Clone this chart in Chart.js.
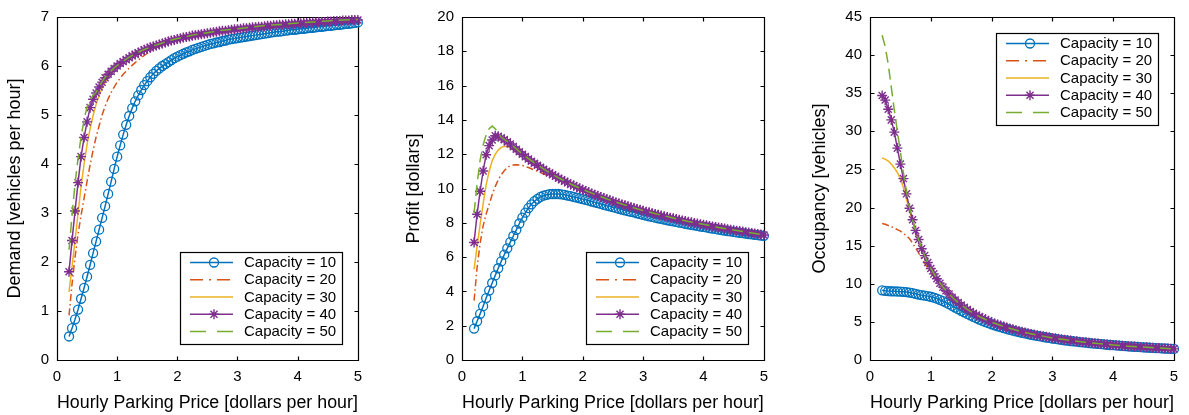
<!DOCTYPE html>
<html>
<head>
<meta charset="utf-8">
<script src="https://cdn.jsdelivr.net/npm/chart.js@4.4.1/dist/chart.umd.min.js"></script>
<style>
  html, body { margin: 0; padding: 0; background: #fff; }
  #wrap { position: relative; width: 1189px; height: 415px; overflow: hidden; background: #fff; }
  canvas { position: absolute; top: 0; }
</style>
</head>
<body>
<div id="wrap">
  <canvas id="demandChart" width="370" height="415" style="left:0px"></canvas>
  <canvas id="profitChart" width="376" height="415" style="left:400px"></canvas>
  <canvas id="occupancyChart" width="399" height="415" style="left:790px"></canvas>
</div>
<script>
// Hourly price grid used by the marked series (capacity 10 and 40)
const priceFine = [
  0.20,0.25,0.30,0.35,0.40,0.45,0.50,0.55,0.60,0.65,0.70,0.75,0.80,0.85,0.90,0.95,
  1.00,1.05,1.10,1.15,1.20,1.25,1.30,1.35,1.40,1.45,1.50,1.55,1.60,1.65,1.70,1.75,1.80,1.85,1.90,1.95,
  2.00,2.05,2.10,2.15,2.20,2.25,2.30,2.35,2.40,2.45,2.50,2.55,2.60,2.65,2.70,2.75,2.80,2.85,2.90,2.95,
  3.00,3.05,3.10,3.15,3.20,3.25,3.30,3.35,3.40,3.45,3.50,3.55,3.60,3.65,3.70,3.75,3.80,3.85,3.90,3.95,
  4.00,4.05,4.10,4.15,4.20,4.25,4.30,4.35,4.40,4.45,4.50,4.55,4.60,4.65,4.70,4.75,4.80,4.85,4.90,4.95,
  5.00
];
// Coarser price grid for the plain line series (capacity 20, 30, 50)
const priceCoarse = [
  0.20,0.25,0.30,0.35,0.40,0.45,0.50,0.55,0.60,0.65,0.70,0.75,0.80,0.85,0.90,0.95,1.00,
  1.10,1.20,1.30,1.40,1.50,1.60,1.70,1.80,1.90,2.00,
  2.25,2.50,2.75,3.00,3.25,3.50,3.75,4.00,4.25,4.50,4.75,5.00
];

const capacityLabels = ['Capacity = 10', 'Capacity = 20', 'Capacity = 30', 'Capacity = 40', 'Capacity = 50'];

// Demand [vehicles per hour]
const demandCap10 = [
  0.48,0.65,0.83,1.03,1.25,1.47,1.70,1.94,2.18,2.42,2.66,2.90,3.14,3.39,3.64,3.90,
  4.15,4.38,4.60,4.80,4.98,5.14,5.28,5.40,5.51,5.61,5.69,5.77,5.84,5.90,5.95,6.00,6.04,6.08,6.12,6.16,
  6.19,6.22,6.25,6.28,6.30,6.33,6.35,6.37,6.39,6.41,6.43,6.45,6.46,6.48,6.49,6.51,6.52,6.54,6.55,6.56,
  6.57,6.58,6.59,6.60,6.61,6.62,6.63,6.64,6.65,6.66,6.67,6.68,6.69,6.70,6.70,6.71,6.72,6.73,6.74,6.74,
  6.75,6.76,6.76,6.77,6.78,6.78,6.79,6.80,6.80,6.81,6.82,6.82,6.83,6.84,6.84,6.85,6.86,6.86,6.87,6.88,
  6.89
];
const demandCap20 = [
  0.91,1.55,2.10,2.57,2.95,3.30,3.65,3.98,4.28,4.55,4.78,5.00,5.18,5.33,5.46,5.57,5.67,
  5.83,5.96,6.07,6.17,6.26,6.34,6.41,6.46,6.51,6.55,
  6.62,6.67,6.72,6.75,6.79,6.82,6.84,6.87,6.89,6.91,6.93,6.94
];
const demandCap30 = [
  1.39,1.90,2.44,2.99,3.54,4.00,4.40,4.72,4.99,5.22,5.40,5.55,5.67,5.76,5.85,5.93,5.99,
  6.08,6.16,6.24,6.30,6.35,6.40,6.44,6.48,6.52,6.55,
  6.62,6.67,6.72,6.75,6.79,6.82,6.84,6.87,6.89,6.91,6.93,6.94
];
const demandCap40 = [
  1.80,2.44,3.04,3.62,4.15,4.54,4.86,5.15,5.32,5.45,5.57,5.67,5.76,5.83,5.89,5.95,
  6.00,6.05,6.09,6.13,6.17,6.21,6.24,6.27,6.30,6.33,6.35,6.38,6.40,6.42,6.44,6.46,6.48,6.50,6.52,6.53,
  6.55,6.56,6.58,6.59,6.60,6.62,6.63,6.64,6.65,6.66,6.67,6.68,6.69,6.70,6.71,6.72,6.72,6.73,6.74,6.75,
  6.75,6.76,6.77,6.77,6.78,6.79,6.79,6.80,6.80,6.81,6.82,6.82,6.83,6.83,6.84,6.84,6.85,6.85,6.86,6.86,
  6.87,6.87,6.88,6.88,6.88,6.89,6.89,6.90,6.90,6.90,6.91,6.91,6.92,6.92,6.92,6.93,6.93,6.93,6.94,6.94,
  6.94
];
const demandCap50 = [
  2.25,2.95,3.60,4.12,4.55,4.90,5.17,5.31,5.40,5.46,5.58,5.68,5.77,5.84,5.90,5.96,6.01,
  6.10,6.18,6.25,6.31,6.36,6.41,6.45,6.49,6.53,6.56,
  6.63,6.68,6.73,6.76,6.80,6.83,6.85,6.88,6.90,6.92,6.94,6.95
];

// Profit [dollars]
const profitCap10 = [
  1.83,2.26,2.69,3.14,3.61,4.05,4.49,4.93,5.35,5.75,6.14,6.51,6.87,7.23,7.59,7.96,
  8.30,8.59,8.86,9.08,9.26,9.40,9.51,9.58,9.63,9.67,9.68,9.68,9.68,9.66,9.63,9.59,9.55,9.51,9.47,9.43,
  9.38,9.34,9.29,9.24,9.19,9.15,9.10,9.05,9.00,8.96,8.91,8.87,8.82,8.77,8.72,8.68,8.64,8.61,8.55,8.51,
  8.47,8.42,8.38,8.34,8.30,8.26,8.23,8.19,8.15,8.12,8.08,8.05,8.01,7.99,7.94,7.91,7.88,7.85,7.82,7.78,
  7.76,7.73,7.69,7.66,7.64,7.60,7.58,7.55,7.52,7.50,7.47,7.44,7.42,7.40,7.37,7.34,7.33,7.30,7.28,7.26,
  7.24
];
const profitCap20 = [
  3.46,5.40,6.80,7.82,8.51,9.08,9.63,10.11,10.50,10.81,11.03,11.22,11.33,11.37,11.39,11.37,11.34,
  11.22,11.08,10.93,10.79,10.65,10.51,10.37,10.21,10.07,9.93,
  9.57,9.24,8.96,8.70,8.47,8.27,8.06,7.89,7.72,7.57,7.43,7.29
];
const profitCap30 = [
  5.29,6.62,7.90,9.10,10.21,11.01,11.61,11.99,12.24,12.40,12.46,12.45,12.40,12.29,12.20,12.10,11.98,
  11.70,11.45,11.24,11.01,10.80,10.60,10.42,10.24,10.09,9.93,
  9.57,9.24,8.96,8.70,8.47,8.27,8.06,7.89,7.72,7.57,7.43,7.29
];
const profitCap40 = [
  6.85,8.50,9.84,11.02,11.97,12.50,12.83,13.08,13.05,12.95,12.85,12.72,12.60,12.44,12.29,12.14,
  12.00,11.86,11.72,11.59,11.47,11.36,11.24,11.12,11.01,10.91,10.80,10.71,10.60,10.51,10.42,10.33,10.24,10.17,10.09,10.00,
  9.93,9.85,9.78,9.70,9.63,9.57,9.50,9.44,9.37,9.31,9.24,9.19,9.13,9.07,9.02,8.96,8.90,8.86,8.80,8.76,
  8.70,8.65,8.61,8.56,8.52,8.47,8.43,8.38,8.34,8.30,8.27,8.22,8.18,8.14,8.11,8.06,8.03,7.99,7.96,7.92,
  7.89,7.85,7.82,7.79,7.75,7.72,7.69,7.67,7.63,7.60,7.57,7.54,7.52,7.49,7.45,7.43,7.40,7.37,7.35,7.32,
  7.29
];
const profitCap50 = [
  8.57,10.27,11.65,12.54,13.13,13.49,13.64,13.49,13.25,12.97,12.87,12.75,12.62,12.46,12.31,12.16,12.02,
  11.74,11.49,11.26,11.03,10.82,10.62,10.44,10.26,10.10,9.94,
  9.59,9.26,8.98,8.71,8.49,8.28,8.08,7.91,7.73,7.58,7.44,7.30
];

// Occupancy [vehicles]
const occupancyCap10 = [
  9.14,9.08,9.04,9.02,9.01,8.99,8.97,8.95,8.91,8.85,8.77,8.68,8.58,8.51,8.44,8.38,
  8.30,8.18,8.05,7.89,7.72,7.52,7.32,7.10,6.88,6.67,6.45,6.25,6.05,5.85,5.66,5.48,5.31,5.14,4.98,4.84,
  4.69,4.55,4.42,4.30,4.18,4.07,3.96,3.85,3.75,3.66,3.56,3.48,3.39,3.31,3.23,3.16,3.09,3.02,2.95,2.89,
  2.82,2.76,2.70,2.65,2.59,2.54,2.49,2.44,2.40,2.35,2.31,2.27,2.23,2.19,2.15,2.11,2.07,2.04,2.00,1.97,
  1.94,1.91,1.88,1.85,1.82,1.79,1.76,1.74,1.71,1.69,1.66,1.64,1.61,1.59,1.57,1.55,1.53,1.51,1.48,1.47,
  1.45
];
const occupancyCap20 = [
  17.9,17.8,17.65,17.5,17.3,17.1,16.9,16.6,16.3,15.9,15.35,14.7,14.05,13.35,12.7,12.05,11.45,
  10.45,9.50,8.65,7.87,7.20,6.63,6.13,5.69,5.31,4.96,
  4.25,3.70,3.26,2.90,2.61,2.36,2.15,1.97,1.82,1.68,1.56,1.46
];
const occupancyCap30 = [
  26.5,26.35,26.1,25.7,25.2,24.6,23.8,22.6,21.1,19.6,18.2,16.9,15.7,14.6,13.6,12.75,11.98,
  10.66,9.56,8.65,7.87,7.20,6.63,6.13,5.69,5.31,4.96,
  4.25,3.70,3.26,2.90,2.61,2.36,2.15,1.97,1.82,1.68,1.56,1.46
];
const occupancyCap40 = [
  34.7,34.1,32.9,31.5,29.9,27.8,25.7,23.8,21.8,19.9,18.4,17.0,15.8,14.6,13.7,12.8,
  12.00,11.30,10.66,10.08,9.56,9.09,8.65,8.24,7.87,7.53,7.20,6.91,6.63,6.37,6.13,5.90,5.69,5.50,5.31,5.13,
  4.96,4.80,4.66,4.51,4.38,4.25,4.13,4.02,3.90,3.80,3.70,3.60,3.51,3.42,3.34,3.26,3.18,3.11,3.04,2.97,
  2.90,2.84,2.78,2.72,2.66,2.61,2.55,2.50,2.45,2.41,2.36,2.32,2.27,2.23,2.19,2.15,2.11,2.08,2.04,2.00,
  1.97,1.94,1.91,1.88,1.85,1.82,1.79,1.76,1.73,1.71,1.68,1.66,1.63,1.61,1.59,1.56,1.54,1.52,1.50,1.48,
  1.46
];
const occupancyCap50 = [
  42.6,41.1,38.8,35.8,32.8,30.0,27.3,24.5,22.1,19.96,18.39,16.99,15.77,14.66,13.67,12.80,12.02,
  10.68,9.57,8.66,7.88,7.21,6.64,6.14,5.70,5.32,4.97,
  4.26,3.70,3.27,2.90,2.61,2.37,2.15,1.98,1.82,1.69,1.57,1.46
];

// Tick values
const priceTicks = [0, 1, 2, 3, 4, 5];
const demandTicks = [0, 1, 2, 3, 4, 5, 6, 7];
const profitTicks = [0, 2, 4, 6, 8, 10, 12, 14, 16, 18, 20];
const occupancyTicks = [0, 5, 10, 15, 20, 25, 30, 35, 40, 45];

const FONT = '"Liberation Sans", Arial, Helvetica, sans-serif';
Chart.defaults.font.family = FONT;
Chart.defaults.color = '#000';

// Line styles per capacity: -o, -., -, -*, --
const STYLES = [
  { color: '#0072BD', dash: [],             keyDash: [],            marker: 'circle', radius: 4.5, pw: 1.3 },
  { color: '#D95319', dash: [7, 3, 1.5, 3], keyDash: [13, 6, 2, 6], marker: null },
  { color: '#EDB120', dash: [],             keyDash: [],            marker: null },
  { color: '#7E2F8E', dash: [],             keyDash: [],            marker: 'star',   radius: 5,   pw: 1.4 },
  { color: '#77AC30', dash: [11, 6],        keyDash: [16, 11],      marker: null }
];

function makeDatasets(seriesList) {
  return seriesList.map(([xs, ys], i) => {
    const st = STYLES[i];
    return {
      label: capacityLabels[i],
      data: xs.map((x, k) => ({ x: x, y: ys[k] })),
      borderColor: st.color,
      borderWidth: 1.5,
      borderDash: st.dash,
      keyDash: st.keyDash,
      pointStyle: st.marker || 'circle',
      pointRadius: st.marker ? st.radius : 0,
      pointHoverRadius: st.marker ? st.radius : 0,
      pointBorderColor: st.color,
      pointBackgroundColor: 'rgba(0,0,0,0)',
      pointBorderWidth: st.pw || 1,
      tension: 0,
      fill: false,
      clip: false,
      order: 5 - i
    };
  });
}

// Axes box with inward tick marks on all four sides
const framePlugin = {
  id: 'frame',
  beforeDatasetsDraw(chart) {
    const { ctx, chartArea: a, scales } = chart;
    const L = Math.round(a.left) + 0.5, R = Math.round(a.right) + 0.5;
    const T = Math.round(a.top) + 0.5, B = Math.round(a.bottom) + 0.5;
    const len = 4;
    ctx.save();
    ctx.strokeStyle = '#000';
    ctx.lineWidth = 1.2;
    ctx.beginPath();
    ctx.rect(L, T, R - L, B - T);
    scales.x.ticks.forEach(t => {
      const px = Math.round(scales.x.getPixelForValue(t.value)) + 0.5;
      ctx.moveTo(px, B); ctx.lineTo(px, B - len);
      ctx.moveTo(px, T); ctx.lineTo(px, T + len);
    });
    scales.y.ticks.forEach(t => {
      const py = Math.round(scales.y.getPixelForValue(t.value)) + 0.5;
      ctx.moveTo(L, py); ctx.lineTo(L + len, py);
      ctx.moveTo(R, py); ctx.lineTo(R - len, py);
    });
    ctx.stroke();
    ctx.restore();
  }
};

// Boxed legend placed inside the plot area
const boxLegendPlugin = {
  id: 'boxLegend',
  afterDatasetsDraw(chart, args, opts) {
    const { ctx, chartArea: a } = chart;
    const W = 162, H = 92, inset = 16;
    const left = Math.round(a.right - inset - W);
    const top = Math.round(opts.corner === 'tr' ? a.top + inset : a.bottom - inset - H);
    ctx.save();
    ctx.fillStyle = '#fff';
    ctx.fillRect(left, top, W, H);
    ctx.strokeStyle = '#000';
    ctx.lineWidth = 1.2;
    ctx.strokeRect(left + 0.5, top + 0.5, W, H);
    chart.data.datasets.forEach((ds, i) => {
      const cy = top + 10.5 + i * 17.25;
      ctx.strokeStyle = ds.borderColor;
      ctx.lineWidth = ds.borderWidth;
      ctx.setLineDash(ds.keyDash);
      ctx.beginPath();
      ctx.moveTo(left + 10, cy);
      ctx.lineTo(left + 53, cy);
      ctx.stroke();
      ctx.setLineDash([]);
      if (ds.pointRadius > 0) {
        ctx.lineWidth = ds.pointBorderWidth;
        ctx.fillStyle = 'rgba(0,0,0,0)';
        Chart.helpers.drawPoint(ctx, {
          pointStyle: ds.pointStyle, radius: ds.pointRadius, rotation: 0, borderWidth: ds.pointBorderWidth
        }, left + 34, cy);
      }
      ctx.fillStyle = '#000';
      ctx.font = '15px ' + FONT;
      ctx.textBaseline = 'middle';
      ctx.textAlign = 'left';
      ctx.fillText(ds.label, left + 64, cy + 0.5);
    });
    ctx.restore();
  }
};

function makeChart(id, cfg) {
  return new Chart(document.getElementById(id), {
    type: 'line',
    data: { datasets: makeDatasets(cfg.series) },
    options: {
      responsive: false,
      animation: false,
      events: [],
      layout: { padding: { top: 16, right: cfg.padRight, left: 0, bottom: 0 } },
      plugins: {
        legend: { display: false },
        tooltip: { enabled: false },
        boxLegend: { corner: cfg.corner }
      },
      scales: {
        x: {
          type: 'linear',
          min: 0, max: 5,
          afterBuildTicks: s => { s.ticks = priceTicks.map(v => ({ value: v })); },
          afterFit: s => { s.height = 55; },
          grid: { display: false, drawTicks: false },
          border: { display: false },
          ticks: { font: { size: 15 }, color: '#000', padding: 8, maxRotation: 0, autoSkip: false },
          title: {
            display: true, text: 'Hourly Parking Price [dollars per hour]',
            font: { size: 18 }, color: '#000', padding: { top: 0, bottom: 1.2 }
          }
        },
        y: {
          type: 'linear',
          min: cfg.yTicks[0], max: cfg.yTicks[cfg.yTicks.length - 1],
          afterBuildTicks: s => { s.ticks = cfg.yTicks.map(v => ({ value: v })); },
          afterFit: s => { s.width = cfg.yWidth; },
          grid: { display: false, drawTicks: false },
          border: { display: false },
          ticks: { font: { size: 15 }, color: '#000', padding: 8, autoSkip: false },
          title: {
            display: true, text: cfg.yTitle,
            font: { size: 18 }, color: '#000', padding: { top: cfg.titleGap, bottom: 0 }
          }
        }
      }
    },
    plugins: [framePlugin, boxLegendPlugin]
  });
}

makeChart('demandChart', {
  series: [[priceFine, demandCap10], [priceCoarse, demandCap20], [priceCoarse, demandCap30],
           [priceFine, demandCap40], [priceCoarse, demandCap50]],
  yTicks: demandTicks, yTitle: 'Demand [vehicles per hour]',
  yWidth: 57, titleGap: 4.2, padRight: 8, corner: 'br'
});

makeChart('profitChart', {
  series: [[priceFine, profitCap10], [priceCoarse, profitCap20], [priceCoarse, profitCap30],
           [priceFine, profitCap40], [priceCoarse, profitCap50]],
  yTicks: profitTicks, yTitle: 'Profit [dollars]',
  yWidth: 62, titleGap: 3.2, padRight: 8, corner: 'br'
});

makeChart('occupancyChart', {
  series: [[priceFine, occupancyCap10], [priceCoarse, occupancyCap20], [priceCoarse, occupancyCap30],
           [priceFine, occupancyCap40], [priceCoarse, occupancyCap50]],
  yTicks: occupancyTicks, yTitle: 'Occupancy [vehicles]',
  yWidth: 80, titleGap: 19.7, padRight: 15, corner: 'tr'
});
</script>
</body>
</html>
